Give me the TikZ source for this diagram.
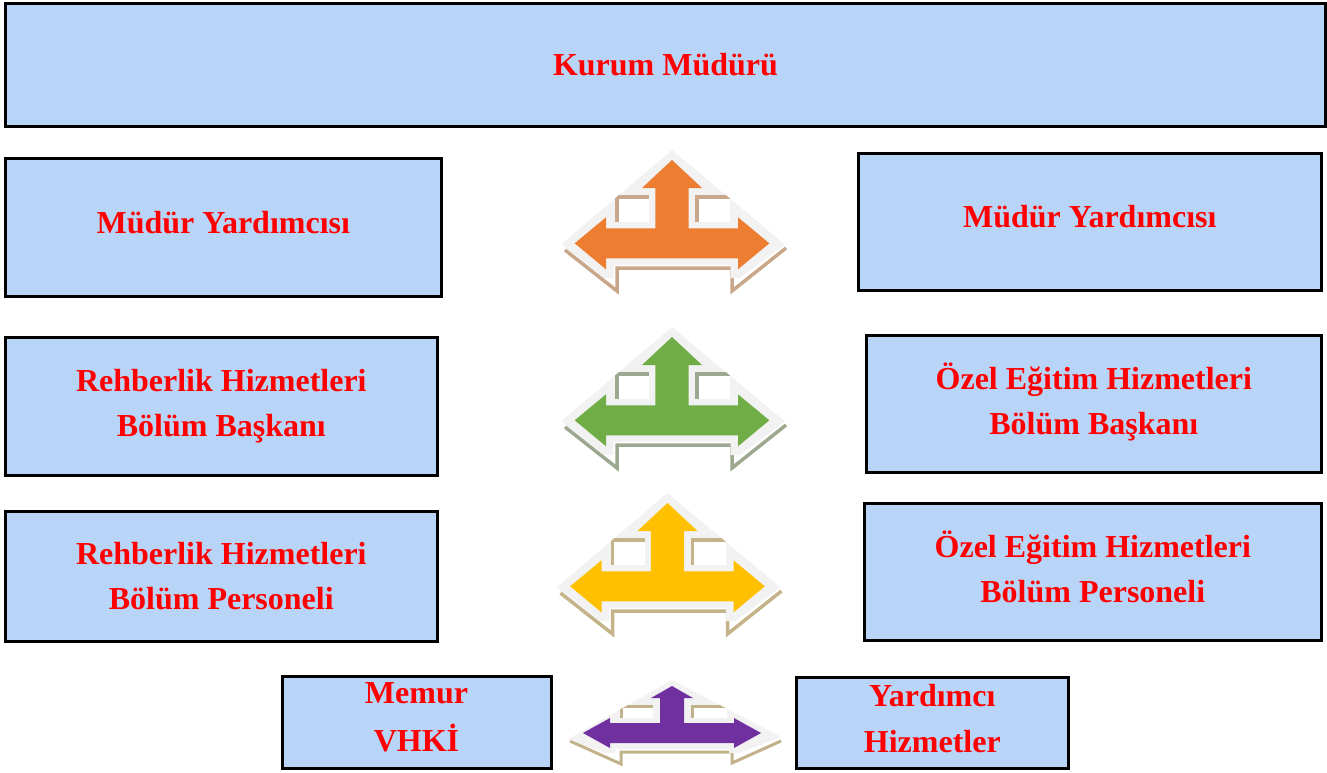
\documentclass[tikz,border=0pt]{standalone}
\usepackage{fontspec}
\setmainfont{Liberation Serif}
\definecolor{boxblue}{HTML}{B8D5F8}
\definecolor{outl}{HTML}{F2F2F2}
\definecolor{aorange}{HTML}{ED7D31}
\definecolor{sorange}{HTML}{C9A78A}
\definecolor{agreen}{HTML}{70AD47}
\definecolor{sgreen}{HTML}{9CA88F}
\definecolor{ayellow}{HTML}{FFC000}
\definecolor{syellow}{HTML}{C5B38A}
\definecolor{apurple}{HTML}{7030A0}
\definecolor{spurple}{HTML}{C2B28A}
\newcommand\bigarrowpath{(0,0) -- (30,28) -- (16.7,28) -- (16.7,68.3) -- (66,68.3) -- (66,57.3) -- (97.3,83.3) -- (66,109.3) -- (66,98.3) -- (-66,98.3) -- (-66,109.3) -- (-97.3,83.3) -- (-66,57.3) -- (-66,68.3) -- (-16.7,68.3) -- (-16.7,28) -- (-30,28) -- cycle}
\newcommand\smallarrowpath{(0,0) -- (21,12) -- (12,12) -- (12,37) -- (62,37) -- (62,32) -- (89,47) -- (62,62) -- (62,57) -- (-62,57) -- (-62,62) -- (-89,47) -- (-62,32) -- (-62,37) -- (-12,37) -- (-12,12) -- (-21,12) -- cycle}
\newcommand\bigarrow[4]{%
  \begin{scope}[shift={(#1,#2)}]
    \draw[#4, line width=3.5pt, line join=miter] (-107,90) -- (-55,131) -- (-55,108) -- (60,108) -- (60,131) -- (114,88);
    \fill[outl] (0,-10) -- (112.7,84.3) -- (68,118) -- (58.5,118) -- (58.5,104.5) -- (-58.5,104.5) -- (-58.5,118) -- (-68,118) -- (-110.7,84.3) -- cycle;
    \begin{scope}
      \clip (0,-10) -- (112.7,84.3) -- (-110.7,84.3) -- cycle;
      \fill[white] (-57,35) rectangle (-23,62);
      \fill[white] (23,35) rectangle (58,62);
      \fill[#4] (-57,35) rectangle (-23,38.5);
      \fill[#4] (-57,35) rectangle (-53.5,62);
      \fill[#4] (23,35) rectangle (58,38.5);
      \fill[#4] (23,35) rectangle (26.5,62);
    \end{scope}
    \fill[#3] \bigarrowpath;
  \end{scope}}
\newcommand\smallarrow[4]{%
  \begin{scope}[shift={(#1,#2)}]
    \draw[#4, line width=3pt, line join=miter] (-102,55) -- (-51,78) -- (-51,66) -- (60,66) -- (60,77) -- (109,55);
    \fill[outl] (0,-6) -- (109,51) -- (67,67) -- (57,67) -- (57,63) -- (-57,63) -- (-57,67) -- (-67,67) -- (-104,53) -- cycle;
    \begin{scope}
      \clip (0,-6) -- (109,51) -- (-104,53) -- cycle;
      \fill[white] (-52,19) rectangle (-19,32);
      \fill[white] (19,19) rectangle (55,32);
      \fill[#4] (-52,19) rectangle (-19,22);
      \fill[#4] (-52,19) rectangle (-49,32);
      \fill[#4] (19,19) rectangle (55,22);
      \fill[#4] (19,19) rectangle (22,32);
    \end{scope}
    \fill[#3] \smallarrowpath;
  \end{scope}}
\begin{document}
\begin{tikzpicture}[x=1pt,y=-1pt,
  box/.style={draw=black, line width=3pt, fill=boxblue, inner sep=0pt,
    font=\fontsize{32}{45}\selectfont\bfseries, text=red, align=center},
  up/.style={text depth=10pt}]
\useasboundingbox (0,0) rectangle (1327,773);
\node[box, minimum width=1320pt, minimum height=123pt] (kurum) at (665.5,65) {Kurum Müdürü};
\node[box, up, minimum width=435.5pt, minimum height=137.5pt] (myl) at (223.3,227.3) {Müdür Yardımcısı};
\node[box, up, minimum width=462.5pt, minimum height=136.5pt] (myr) at (1089.8,221.8) {Müdür Yardımcısı};
\node[box, minimum width=431.5pt, minimum height=137.5pt] (rbb) at (221.3,406.3) {Rehberlik Hizmetleri\\Bölüm Başkanı};
\node[box, up, minimum width=454.5pt, minimum height=137pt] (obb) at (1093.8,403.5) {Özel Eğitim Hizmetleri\\Bölüm Başkanı};
\node[box, minimum width=431.5pt, minimum height=130pt] (rbp) at (221.3,576) {Rehberlik Hizmetleri\\Bölüm Personeli};
\node[box, up, minimum width=456.5pt, minimum height=136.5pt] (obp) at (1092.8,571.8) {Özel Eğitim Hizmetleri\\Bölüm Personeli};
\node[box, up, minimum width=269pt, minimum height=92pt, font=\fontsize{32}{48}\selectfont\bfseries] (memur) at (416.5,722) {Memur\\VHKİ};
\node[box, text depth=8pt, minimum width=272.5pt, minimum height=91.5pt, font=\fontsize{32}{46}\selectfont\bfseries] (yard) at (932.3,722.8) {Yardımcı\\Hizmetler};
\bigarrow{672}{160}{aorange}{sorange}
\bigarrow{672}{337}{agreen}{sgreen}
\bigarrow{667.5}{503}{ayellow}{syellow}
\smallarrow{672}{686}{apurple}{spurple}
\end{tikzpicture}
\end{document}
